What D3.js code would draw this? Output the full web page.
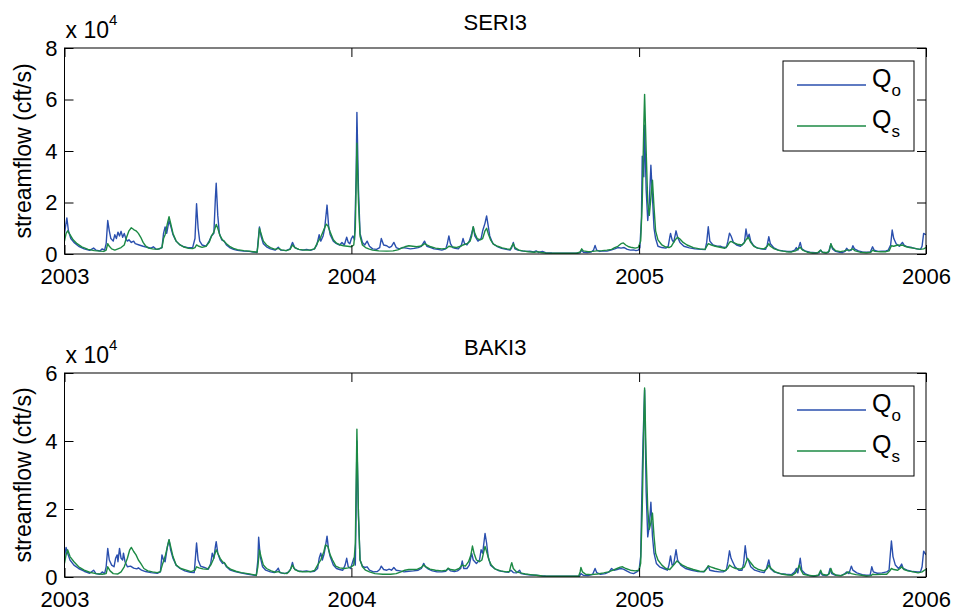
<!DOCTYPE html>
<html>
<head>
<meta charset="utf-8">
<script src="https://d3js.org/d3.v7.min.js"></script>
<style>
	body { margin: 0; background: #fff; }
	text { font-family: "Liberation Sans", Arial, Helvetica, sans-serif; fill: #000; }
</style>
</head>
<body>
<div id="chart"></div>
<script>

// tick labels
var years = [2003, 2004, 2005, 2006];
var seriTicks = [0, 20000, 40000, 60000, 80000];
var bakiTicks = [0, 20000, 40000, 60000];
var seriesNames = ["o", "s"];

// SERI3 observed / simulated flow, [day since 1 Jan 2003, cft/s]
var seriObs = [[0,8000],[3,14000],[5,9000],[8,6000],[12,4500],[18,3000],[25,2000],[32,1400],[37,2300],[40,1500],[45,1200],[48,2000],[51,1500],[53,4000],[55,13000],[57,9000],[59,6000],[62,5000],[64,7500],[66,6000],[68,8500],[70,7000],[72,8800],[74,6500],[76,8000],[78,6000],[80,5000],[82,5500],[85,4500],[88,5000],[90,4000],[95,3500],[100,3000],[105,2600],[110,2300],[113,2800],[116,2000],[120,1900],[124,2500],[126,8000],[128,10500],[130,8000],[133,13000],[135,11000],[138,7500],[142,5000],[147,3500],[152,2800],[158,2400],[163,2500],[166,6000],[168,19500],[170,10000],[172,5000],[175,3500],[180,3000],[184,5000],[187,7000],[190,8000],[192,22000],[193,27500],[195,15000],[197,8000],[200,5500],[203,5000],[206,3500],[210,2500],[215,1800],[220,1400],[228,1100],[235,1000],[240,800],[245,600],[246,4000],[248,10500],[250,7000],[253,4000],[257,2800],[262,2000],[268,1500],[272,2600],[275,1500],[282,1300],[287,2000],[290,4500],[293,2500],[298,1800],[303,1500],[308,1800],[313,1400],[318,2000],[321,3500],[324,7500],[326,5000],[329,7000],[331,10000],[334,19000],[336,11000],[338,7500],[342,5000],[346,4000],[350,3500],[353,4500],[356,3500],[359,6500],[361,4500],[363,4000],[365,6000],[367,7000],[369,5500],[371,30000],[372,55000],[374,25000],[376,8000],[379,4500],[382,3500],[385,5000],[388,3000],[392,2000],[397,1800],[401,2500],[403,6000],[406,3500],[410,3200],[413,2500],[416,3000],[419,4500],[422,2500],[426,2000],[430,2500],[435,2300],[440,2000],[445,2200],[450,2500],[454,3000],[458,5000],[461,3000],[466,2500],[470,2000],[475,1800],[480,1500],[485,2000],[487,4000],[489,7000],[491,4000],[494,2500],[497,2200],[501,2000],[505,3500],[507,6000],[509,4000],[512,3500],[515,5000],[518,8000],[520,10500],[522,7000],[526,5000],[530,6000],[532,9000],[535,12000],[537,14800],[539,11000],[541,7000],[545,4000],[550,3000],[556,2200],[562,1800],[567,1500],[569,2500],[571,4500],[573,2000],[577,1500],[582,1200],[587,1000],[592,1100],[597,800],[600,1200],[603,600],[608,1000],[612,500],[620,400],[630,350],[640,300],[650,300],[656,500],[658,1500],[660,700],[665,600],[670,800],[673,1500],[675,3300],[677,1500],[681,1000],[686,1200],[690,1100],[695,1500],[700,2000],[704,2500],[708,2300],[712,2500],[716,1800],[720,1500],[724,1600],[727,1300],[730,1500],[732,2500],[734,14000],[735,38000],[737,30000],[738,50000],[740,25000],[742,13000],[744,20000],[746,34500],[748,22000],[750,10000],[752,6000],[755,3000],[760,2500],[765,2300],[768,3000],[770,6500],[771,8000],[773,5500],[775,4500],[778,9000],[780,6500],[783,4500],[788,3000],[795,2400],[802,2000],[810,1800],[815,1700],[817,4500],[819,10600],[821,5000],[825,3500],[830,3000],[835,3000],[838,2600],[842,2500],[844,5000],[846,8100],[848,7000],[851,4500],[855,3500],[860,3000],[865,4500],[867,9700],[869,6000],[871,7700],[873,5000],[876,3500],[880,2500],[886,2000],[892,1800],[894,3500],[896,6700],[898,4000],[902,2500],[908,1500],[914,1200],[920,1000],[925,1000],[929,1500],[931,2500],[933,1500],[936,4500],[938,2000],[942,1200],[948,700],[955,500],[960,600],[962,1500],[964,700],[968,500],[972,700],[975,3900],[977,2000],[981,1000],[986,700],[990,600],[993,1000],[995,2200],[998,1200],[1001,1500],[1003,3200],[1005,2000],[1010,1200],[1015,800],[1020,700],[1025,700],[1028,2800],[1030,1500],[1035,1000],[1040,1100],[1045,1200],[1048,1500],[1051,3500],[1053,9300],[1055,6000],[1058,4000],[1062,3000],[1066,4500],[1068,3500],[1072,2800],[1078,2500],[1084,2000],[1089,1800],[1091,3000],[1093,8000],[1096,7500]];

var seriSim = [[0,5000],[2,8000],[4,9000],[7,7500],[11,5500],[16,4000],[22,2800],[30,1800],[38,1300],[45,1100],[50,1000],[53,1500],[55,4000],[57,3000],[60,2000],[64,1500],[68,2000],[72,2500],[76,3500],[79,6500],[82,9000],[85,10200],[88,9500],[91,9000],[94,8000],[97,6500],[100,4500],[103,3200],[107,2300],[112,2000],[118,1800],[124,2500],[126,6000],[128,7500],[131,12000],[133,14500],[135,12000],[138,8000],[142,5000],[147,3500],[152,2700],[158,2200],[163,2100],[166,2500],[168,3500],[171,3000],[175,2600],[180,3000],[184,4500],[187,7000],[190,8500],[193,11500],[195,10000],[198,7000],[201,5500],[203,5000],[206,4000],[210,3000],[215,2200],[220,1700],[228,1300],[235,1100],[240,900],[245,700],[246,3000],[248,10000],[250,8000],[253,5000],[257,3500],[262,2500],[268,1800],[272,2200],[276,1600],[282,1300],[287,1800],[290,3500],[293,2500],[298,1800],[305,1500],[312,1500],[318,2000],[322,4500],[326,6500],[330,9500],[333,11600],[335,11000],[338,8500],[342,5500],[346,4200],[350,3600],[355,3200],[360,3000],[365,2800],[368,3500],[370,10000],[372,43000],[374,20000],[376,7000],[379,3500],[383,2500],[387,2000],[392,1500],[400,1200],[410,1100],[418,1200],[424,1600],[428,2200],[433,2800],[438,3200],[443,3000],[448,2800],[452,3000],[456,3500],[458,4000],[461,3500],[466,2800],[472,2300],[480,2000],[486,2200],[489,3000],[492,2800],[498,2500],[504,3000],[507,3500],[512,4000],[516,5000],[518,7000],[520,10600],[522,8000],[525,6000],[529,5500],[532,6000],[535,9000],[537,10000],[539,8000],[542,5500],[546,3700],[551,3000],[557,2400],[563,2000],[567,1800],[569,3000],[571,4000],[573,2500],[578,1500],[583,1200],[590,900],[598,700],[602,900],[606,600],[612,400],[625,300],[640,300],[652,300],[656,800],[658,2000],[660,1200],[666,900],[672,1000],[677,1200],[684,1300],[690,1500],[696,1800],[700,2500],[704,3000],[708,4000],[711,4300],[714,3500],[718,2800],[722,2500],[726,2300],[730,2600],[733,5000],[735,20000],[737,50000],[738,62000],[740,40000],[742,20000],[744,15000],[746,22000],[748,28700],[750,18000],[752,9000],[755,5500],[760,3500],[765,2700],[769,2500],[772,3000],[774,4000],[777,5500],[780,6500],[783,5800],[787,4500],[792,3500],[800,2500],[808,2000],[815,1800],[817,3000],[819,4000],[823,3500],[828,3000],[834,2600],[840,2200],[843,3000],[846,4500],[848,4900],[851,4400],[856,3800],[862,3500],[865,4500],[867,5500],[870,6500],[873,4500],[877,3000],[882,2300],[890,2000],[894,3000],[896,4000],[898,3000],[903,2000],[910,1300],[918,900],[925,800],[930,1200],[933,2000],[936,2600],[939,1500],[945,700],[952,400],[958,500],[962,1500],[964,700],[970,500],[973,1200],[975,4000],[977,2500],[981,1300],[987,900],[992,1200],[995,1500],[999,1500],[1003,2000],[1006,1200],[1012,700],[1020,500],[1026,700],[1028,1500],[1031,1000],[1038,900],[1045,900],[1049,1200],[1052,3200],[1055,3000],[1060,3500],[1063,3300],[1066,3500],[1069,3000],[1075,2500],[1082,2200],[1088,1800],[1093,2000],[1096,2500]];

// BAKI3 observed / simulated flow
var bakiObs = [[0,6000],[2,8700],[4,7000],[7,5000],[12,3500],[18,2500],[25,1700],[32,1100],[37,2000],[40,1000],[45,800],[48,1500],[51,1000],[53,3000],[55,8400],[57,5000],[60,3500],[63,3000],[65,5500],[67,6500],[68,4500],[70,8400],[72,5500],[74,5000],[75,7000],[77,4500],[80,3000],[84,3200],[88,2600],[92,2400],[94,2700],[98,2000],[103,1600],[110,1300],[118,1100],[122,1500],[124,6500],[126,5000],[128,4500],[131,9000],[133,10900],[135,8000],[138,5500],[142,3500],[147,2500],[153,1800],[160,1400],[165,1300],[166,4000],[168,10000],[170,5000],[173,3200],[178,2800],[183,2300],[186,4000],[188,7000],[190,5500],[192,9000],[193,10400],[195,7000],[198,5000],[201,4000],[203,4300],[206,3000],[211,2000],[217,1600],[224,1200],[232,900],[240,600],[244,400],[246,5000],[247,11700],[249,6000],[252,3000],[256,2000],[262,1500],[267,1300],[270,2000],[272,2600],[274,1300],[280,1000],[285,1400],[288,2500],[290,4300],[292,2500],[297,1800],[303,1600],[308,1800],[313,1500],[318,1700],[322,2500],[324,5500],[326,7000],[328,5000],[330,6500],[332,9000],[334,12000],[336,8000],[338,6000],[342,3500],[346,2500],[350,2200],[354,2000],[357,3500],[359,5500],[361,3000],[364,2500],[366,4000],[368,5500],[370,3500],[371,20000],[372,40000],[374,18000],[376,5000],[379,3200],[382,2800],[385,3000],[388,2000],[393,1500],[398,1600],[401,2200],[403,3200],[406,2200],[410,2000],[413,2300],[416,2000],[419,2800],[422,2000],[427,1800],[432,1500],[438,1700],[444,1800],[450,2000],[454,2500],[457,4000],[459,3000],[463,2300],[468,1800],[474,1500],[480,1500],[485,1700],[488,2500],[491,1800],[496,1600],[500,1800],[504,2500],[506,4700],[508,2500],[512,2500],[515,3500],[518,7000],[520,5000],[524,4000],[528,5000],[530,8000],[532,7000],[535,12800],[537,10000],[539,6000],[542,3500],[547,2500],[553,1800],[560,1500],[565,1400],[568,2000],[571,1300],[575,1200],[579,2000],[581,1000],[586,800],[593,600],[600,500],[605,400],[612,300],[625,200],[640,200],[655,200],[657,1000],[660,500],[666,400],[672,800],[675,2500],[677,1300],[682,800],[688,1000],[693,1500],[696,2500],[699,2000],[703,2200],[707,2500],[711,2300],[715,1800],[720,1200],[724,1000],[728,1500],[731,2000],[733,6000],[735,30000],[736,40000],[738,55000],[740,25000],[742,11800],[744,15000],[746,22000],[748,12000],[750,7000],[753,4000],[757,3000],[762,2500],[767,2000],[769,3500],[771,6200],[773,3500],[775,3800],[778,8000],[780,5000],[784,3500],[790,2500],[798,2000],[806,1600],[813,1500],[817,2500],[819,3200],[821,2000],[827,1700],[833,1500],[838,1500],[842,2000],[844,4500],[846,7700],[848,5500],[850,4500],[853,3000],[858,2000],[862,2000],[864,4000],[866,9200],[868,5500],[870,5000],[873,3000],[878,2000],[885,1500],[890,1300],[893,2500],[896,5000],[898,2500],[903,1500],[910,1000],[918,800],[925,700],[929,1500],[931,2500],[933,1200],[936,5500],[938,2000],[942,1000],[948,400],[954,300],[960,500],[962,1500],[964,600],[969,400],[972,800],[974,2500],[976,1000],[981,500],[988,400],[993,1000],[995,1500],[998,1000],[1001,3200],[1003,2000],[1008,1200],[1015,700],[1020,500],[1025,600],[1027,3000],[1029,1500],[1034,1100],[1040,1200],[1046,1500],[1049,2000],[1050,5000],[1052,10600],[1054,6000],[1057,3500],[1061,2500],[1063,3000],[1065,3800],[1067,2500],[1072,2000],[1079,1600],[1085,1500],[1089,1500],[1091,3000],[1093,7600],[1096,6500]];

var bakiSim = [[0,4000],[2,6500],[4,8000],[7,6000],[12,4500],[18,3000],[25,2000],[32,1400],[40,1000],[48,800],[53,1000],[55,3000],[58,1800],[62,1000],[68,900],[72,1500],[76,3000],[80,5500],[83,8000],[85,8700],[88,7500],[91,6500],[94,5000],[97,4000],[101,2500],[106,1800],[112,1500],[118,1300],[122,1600],[125,4000],[128,6000],[131,9000],[133,11000],[135,9000],[138,6000],[142,3500],[148,2500],[155,2000],[161,1600],[166,2000],[168,3000],[171,2700],[176,2400],[182,2300],[186,3500],[189,5000],[191,6500],[193,8000],[195,7000],[198,5500],[201,4500],[204,4000],[207,3000],[212,2200],[218,1700],[225,1300],[233,1000],[240,700],[244,500],[246,3000],[248,8000],[250,6000],[253,3500],[257,2500],[263,1800],[268,1400],[272,1600],[276,1200],[283,1000],[287,2000],[290,3500],[293,2200],[299,1600],[306,1500],[313,1600],[318,1900],[322,3500],[326,5000],[330,7500],[332,9400],[335,9000],[338,6500],[341,5000],[345,3200],[350,2700],[356,2500],[361,2700],[365,3000],[368,3500],[370,10000],[372,43500],[374,18000],[376,5000],[379,3000],[383,2000],[388,1500],[395,1000],[405,800],[415,800],[422,1000],[428,1500],[433,2000],[438,2200],[444,2200],[449,2300],[454,2800],[457,3500],[460,3000],[465,2300],[472,2000],[480,1800],[486,2000],[488,2600],[491,2200],[497,2000],[502,2500],[506,3500],[510,3200],[514,4500],[517,6500],[519,9100],[521,7000],[524,5000],[528,4500],[531,5000],[533,7000],[535,9000],[537,7500],[540,5000],[543,3500],[548,2300],[555,1800],[562,1500],[566,1600],[568,3500],[569,4200],[571,2500],[575,1500],[580,1200],[586,900],[593,700],[600,500],[608,300],[620,200],[640,200],[654,200],[656,1500],[657,2800],[659,1500],[663,800],[670,700],[678,900],[686,1200],[692,1500],[698,2000],[703,2500],[707,2900],[710,3000],[714,2500],[720,2000],[726,1800],[731,2000],[733,4000],[735,20000],[737,45000],[738,55600],[740,35000],[742,20000],[744,14000],[746,16000],[748,18800],[750,12000],[752,7000],[755,5000],[760,3500],[765,2500],[770,2200],[773,3000],[776,3800],[779,4700],[782,4200],[786,3500],[792,2800],[800,2200],[808,1700],[814,1600],[817,2500],[819,3300],[822,3000],[828,2500],[835,2000],[840,1800],[844,2500],[846,3500],[849,3000],[854,2500],[860,2300],[865,3000],[869,5500],[872,4500],[877,3000],[883,2200],[890,1800],[894,2500],[896,3500],[899,2500],[904,1500],[912,900],[920,600],[926,500],[930,1200],[932,2000],[935,3500],[937,2000],[940,800],[946,500],[953,300],[959,500],[962,2000],[964,800],[970,500],[973,1000],[975,2500],[977,1200],[982,500],[988,400],[994,1000],[997,1500],[1001,1000],[1007,700],[1014,500],[1020,300],[1026,400],[1028,800],[1032,700],[1040,800],[1046,800],[1050,1800],[1052,2500],[1055,2200],[1060,2000],[1063,2500],[1065,3000],[1068,2200],[1073,1800],[1080,1500],[1086,1200],[1091,1500],[1094,2000],[1096,2200]];


var colors = { o: "#2a4fae", s: "#1c8a44" };
var fontFamily = '"Liberation Sans", Arial, Helvetica, sans-serif';
var fontSize = 22;

function dayToDate(d) {
	return new Date(Date.UTC(2003, 0, 1) + d * 864e5);
}

/*
 * FlowPanel - one subplot (observed vs simulated streamflow)
 * @param _svg		-- the svg to draw into
 * @param _config	-- title, data and placement of the panel
 */

FlowPanel = function(_svg, _config){
	this.svg = _svg;
	this.config = _config;
	this.initVis();
}

FlowPanel.prototype.initVis = function(){
	var vis = this;
	var c = vis.config;

	vis.left = 64.5;
	vis.right = 926;
	vis.top = c.top;
	vis.bottom = c.top + c.height;

	vis.x = d3.scaleUtc()
		.domain([new Date(Date.UTC(years[0], 0, 1)), new Date(Date.UTC(years[years.length - 1], 0, 1))])
		.range([vis.left, vis.right]);

	vis.y = d3.scaleLinear()
		.domain([0, c.ticks[c.ticks.length - 1]])
		.range([vis.bottom, vis.top]);

	var yearDates = years.map(function(y) { return new Date(Date.UTC(y, 0, 1)); });

	vis.g = vis.svg.append("g");

	// clip so the lines stay inside the box
	vis.g.append("clipPath").attr("id", "clip-" + c.id)
		.append("rect")
		.attr("x", vis.left).attr("y", vis.top)
		.attr("width", vis.right - vis.left).attr("height", vis.bottom - vis.top);

	var line = d3.line()
		.x(function(d) { return vis.x(dayToDate(d[0])); })
		.y(function(d) { return vis.y(d[1]); });

	var lines = vis.g.append("g").attr("clip-path", "url(#clip-" + c.id + ")");
	lines.append("path")
		.datum(c.obs)
		.attr("fill", "none")
		.attr("stroke", colors.o)
		.attr("stroke-width", 1.4)
		.attr("stroke-linejoin", "round")
		.attr("d", line);
	lines.append("path")
		.datum(c.sim)
		.attr("fill", "none")
		.attr("stroke", colors.s)
		.attr("stroke-width", 1.4)
		.attr("stroke-linejoin", "round")
		.attr("d", line);

	// axes, ticks pointing inward on all four sides
	var xBottom = vis.g.append("g")
		.attr("transform", "translate(0," + vis.bottom + ")")
		.call(d3.axisBottom(vis.x).tickValues(yearDates).tickFormat(d3.utcFormat("%Y"))
			.tickSizeInner(-9).tickSizeOuter(0).tickPadding(14));
	var xTop = vis.g.append("g")
		.attr("transform", "translate(0," + vis.top + ")")
		.call(d3.axisTop(vis.x).tickValues(yearDates).tickFormat("")
			.tickSizeInner(-9).tickSizeOuter(0));
	var yLeft = vis.g.append("g")
		.attr("transform", "translate(" + vis.left + ",0)")
		.call(d3.axisLeft(vis.y).tickValues(c.ticks).tickFormat(function(d) { return d / 1e4; })
			.tickSizeInner(-9).tickSizeOuter(0).tickPadding(7));
	var yRight = vis.g.append("g")
		.attr("transform", "translate(" + vis.right + ",0)")
		.call(d3.axisRight(vis.y).tickValues(c.ticks).tickFormat("")
			.tickSizeInner(-9).tickSizeOuter(0));

	[xBottom, xTop, yLeft, yRight].forEach(function(a) {
		a.select(".domain").remove();
		a.selectAll("line").attr("stroke", "#000");
		a.selectAll("text")
			.attr("font-family", fontFamily)
			.attr("font-size", fontSize)
			.attr("fill", "#000");
	});

	// box
	vis.g.append("rect")
		.attr("x", vis.left).attr("y", vis.top)
		.attr("width", vis.right - vis.left).attr("height", vis.bottom - vis.top)
		.attr("fill", "none")
		.attr("stroke", "#000")
		.attr("stroke-width", 1);

	// title
	vis.g.append("text")
		.attr("x", (vis.left + vis.right) / 2)
		.attr("y", vis.top - 18)
		.attr("text-anchor", "middle")
		.attr("font-size", fontSize)
		.text(c.title);

	// exponent label
	var expo = vis.g.append("text")
		.attr("x", vis.left + 1)
		.attr("y", vis.top - 10)
		.attr("font-size", fontSize + 1)
		.text("x 10");
	expo.append("tspan")
		.attr("dy", -13)
		.attr("font-size", 15)
		.text("4");

	// y label
	vis.g.append("text")
		.attr("transform", "translate(23," + ((vis.top + vis.bottom) / 2) + ") rotate(-90)")
		.attr("text-anchor", "middle")
		.attr("dy", "0.35em")
		.attr("font-size", fontSize + 1)
		.text("streamflow (cft/s)");

	// legend
	var lg = vis.g.append("g").attr("transform", "translate(783," + (vis.top + 13) + ")");
	lg.append("rect")
		.attr("width", 131).attr("height", 90)
		.attr("fill", "#fff").attr("stroke", "#000");
	seriesNames.forEach(function(s, i) {
		var ly = 24 + i * 41;
		lg.append("line")
			.attr("x1", 14).attr("x2", 83)
			.attr("y1", ly).attr("y2", ly)
			.attr("stroke", colors[s]).attr("stroke-width", 1.3);
		var t = lg.append("text")
			.attr("x", 89)
			.attr("y", ly + 2)
			.attr("font-size", 25)
			.text("Q");
		t.append("tspan")
			.attr("dy", 9)
			.attr("font-size", 17)
			.text(s);
	});
}

var svg = d3.select("#chart").append("svg")
	.attr("width", 954)
	.attr("height", 611);

var seriPanel = new FlowPanel(svg, { id: "seri", title: "SERI3", top: 48, height: 206, ticks: seriTicks, obs: seriObs, sim: seriSim });
var bakiPanel = new FlowPanel(svg, { id: "baki", title: "BAKI3", top: 373, height: 204, ticks: bakiTicks, obs: bakiObs, sim: bakiSim });

</script>
</body>
</html>
